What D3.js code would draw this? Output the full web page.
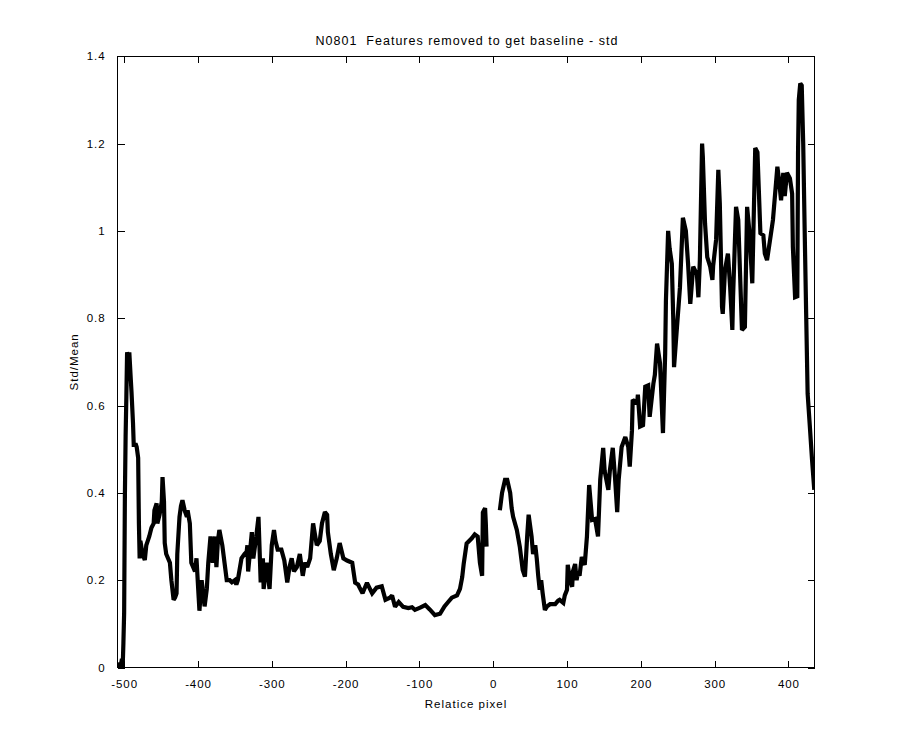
<!DOCTYPE html>
<html><head><meta charset="utf-8">
<script src="https://cdn.jsdelivr.net/npm/d3@7"></script>
<style>body{margin:0;background:#fff;} svg{display:block;} text{font-family:"Liberation Sans",Arial,sans-serif;white-space:pre;}</style>
</head><body>
<svg id="chart" width="900" height="750"></svg>
<script>
const titleText = "N0801  Features removed to get baseline - std";
const xLabel = "Relatice pixel";
const yLabel = "Std/Mean";
const xTicks = [-500,-400,-300,-200,-100,0,100,200,300,400];
const yTicks = [0,0.2,0.4,0.6,0.8,1,1.2,1.4];
// segment 1 (before the gap near 0)
const xSeg1 = [-509,-506,-505,-503,-502,-501,-500,-499,-498,-497,-496,-494,-493,-491,-490,-488,-487,-484,-483,-481,-480,-479,-478,-475,-472,-470,-468,-466,-463,-460,-459,-456,-455,-452,-449,-448,-446,-445,-443,-438,-436,-433,-431,-429,-428,-425,-423,-421,-418,-415,-414,-411,-409,-404,-402,-399,-398,-395,-391,-388,-386,-383,-380,-377,-375,-373,-371,-367,-364,-361,-357,-354,-350,-348,-346,-341,-337,-334,-333,-332,-327,-325,-321,-318,-315,-312,-311,-307,-303,-300,-297,-295,-292,-287,-283,-279,-276,-273,-270,-266,-262,-258,-255,-252,-248,-244,-241,-239,-235,-232,-228,-225,-224,-220,-216,-212,-208,-203,-198,-191,-187,-183,-181,-177,-171,-167,-164,-158,-151,-146,-140,-137,-133,-128,-122,-115,-110,-106,-99,-92,-86,-79,-72,-66,-61,-56,-49,-45,-42,-40,-36,-29,-25,-21,-18,-15,-14,-11,-10,-9];
const ySeg1 = [0,0.01,0,0.02,0,0.056,0.125,0.39,0.53,0.62,0.722,0.71,0.722,0.66,0.63,0.56,0.51,0.51,0.505,0.48,0.33,0.25,0.29,0.26,0.246,0.28,0.29,0.30,0.32,0.33,0.36,0.376,0.33,0.35,0.38,0.436,0.38,0.285,0.26,0.24,0.20,0.155,0.16,0.17,0.26,0.345,0.37,0.383,0.36,0.345,0.36,0.33,0.24,0.22,0.25,0.16,0.13,0.2,0.14,0.18,0.24,0.30,0.24,0.30,0.23,0.29,0.315,0.28,0.24,0.20,0.2,0.195,0.2,0.19,0.2,0.25,0.26,0.265,0.28,0.22,0.31,0.25,0.30,0.345,0.195,0.25,0.18,0.24,0.18,0.28,0.315,0.29,0.27,0.27,0.245,0.195,0.23,0.25,0.22,0.23,0.26,0.21,0.24,0.23,0.25,0.33,0.30,0.28,0.29,0.33,0.356,0.35,0.31,0.26,0.223,0.25,0.285,0.25,0.245,0.24,0.194,0.19,0.183,0.17,0.194,0.18,0.17,0.183,0.186,0.155,0.16,0.165,0.139,0.15,0.139,0.136,0.138,0.132,0.137,0.143,0.133,0.12,0.123,0.14,0.15,0.16,0.165,0.18,0.207,0.237,0.284,0.296,0.305,0.3,0.24,0.21,0.355,0.365,0.33,0.277];
// segment 2 (after the gap)
const xSeg2 = [9,12,16,19,23,25,27,32,36,40,43,46,48,52,54,57,59,61,63,65,67,70,73,77,84,88,90,95,97,100,101,104,107,108,111,113,115,117,120,124,127,130,134,138,142,145,149,151,156,158,162,165,168,170,174,179,183,185,188,189,195,196,199,203,206,210,212,217,219,222,226,230,233,234,237,239,242,244,245,249,253,257,261,264,267,271,276,278,280,283,284,287,290,294,297,298,302,305,307,310,311,314,318,321,324,325,329,332,337,341,344,347,351,355,358,362,366,368,371,376,379,385,387,390,393,395,398,402,405,406,409,412,413,414,416,418,420,422,424,426,429,432,433,435];
const ySeg2 = [0.36,0.40,0.43,0.43,0.40,0.365,0.345,0.315,0.277,0.223,0.208,0.3,0.35,0.30,0.26,0.28,0.25,0.21,0.178,0.2,0.17,0.132,0.14,0.145,0.145,0.153,0.155,0.148,0.165,0.178,0.235,0.2,0.185,0.22,0.237,0.2,0.22,0.21,0.253,0.235,0.3,0.418,0.338,0.34,0.30,0.43,0.503,0.45,0.407,0.45,0.503,0.436,0.356,0.43,0.505,0.528,0.505,0.46,0.543,0.613,0.605,0.625,0.552,0.555,0.643,0.646,0.574,0.65,0.67,0.742,0.697,0.537,0.72,0.84,1.0,0.96,0.925,0.796,0.688,0.78,0.87,1.03,1.0,0.925,0.833,0.918,0.90,0.848,0.933,1.2,1.17,1.017,0.94,0.918,0.888,0.92,0.98,1.14,1.063,0.826,0.81,0.91,0.948,0.872,0.773,0.85,1.055,1.025,0.773,0.78,1.055,1.0,0.88,1.19,1.18,0.995,0.99,0.948,0.933,0.99,1.025,1.147,1.12,1.07,1.133,1.08,1.133,1.12,1.085,0.963,0.848,0.85,1.177,1.3,1.338,1.333,1.2,1.0,0.81,0.627,0.552,0.475,0.452,0.407];

const L = 117.5, R = 814.5, T = 56.25, B = 667.5;
const svg = d3.select("#chart");
const x = d3.scaleLinear().domain([-509, 435.3]).range([L, R]);
const y = d3.scaleLinear().domain([0, 1.4]).range([B, T]);

const seg1 = xSeg1.map((v,i)=>[v, ySeg1[i]]);
const seg2 = xSeg2.map((v,i)=>[v, ySeg2[i]]);
const line = d3.line().x(d=>x(d[0])).y(d=>y(d[1]));

svg.append("rect").attr("x",L).attr("y",T).attr("width",R-L).attr("height",B-T).attr("fill","#fff");

svg.append("clipPath").attr("id","c").append("rect").attr("x",L).attr("y",T-4).attr("width",R-L).attr("height",B-T+8);
const g = svg.append("g").attr("clip-path","url(#c)");
[seg1, seg2].forEach(s => g.append("path").datum(s).attr("d", line)
  .attr("fill","none").attr("stroke","#000").attr("stroke-width",4.2).attr("stroke-linejoin","miter").attr("stroke-miterlimit",2));

// axes (MATLAB-like boxed with inward ticks)
const tl = 7;
const fmt = d => d3.format("~g")(d).replace("\u2212","-");
svg.append("g").attr("transform",`translate(0,${B})`)
  .call(d3.axisBottom(x).tickValues(xTicks).tickSizeInner(-tl).tickSizeOuter(0).tickPadding(12).tickFormat(fmt))
  .call(a=>a.select(".domain").remove());
svg.append("g").attr("transform",`translate(0,${T})`)
  .call(d3.axisTop(x).tickValues(xTicks).tickSizeInner(-tl).tickSizeOuter(0).tickFormat(""))
  .call(a=>a.select(".domain").remove());
svg.append("g").attr("transform",`translate(${L},0)`)
  .call(d3.axisLeft(y).tickValues(yTicks).tickSizeInner(-tl).tickSizeOuter(0).tickPadding(12).tickFormat(fmt))
  .call(a=>a.select(".domain").remove());
svg.append("g").attr("transform",`translate(${R},0)`)
  .call(d3.axisRight(y).tickValues(yTicks).tickSizeInner(-tl).tickSizeOuter(0).tickFormat(""))
  .call(a=>a.select(".domain").remove());
svg.selectAll(".tick line").attr("stroke","#000").attr("shape-rendering","crispEdges");
svg.selectAll(".tick text").attr("font-size",11.5).attr("fill","#000").attr("letter-spacing",0.9)
  .attr("font-family","Liberation Sans, Arial, sans-serif");
svg.append("rect").attr("x",L).attr("y",T).attr("width",R-L).attr("height",B-T)
  .attr("fill","none").attr("stroke","#000").attr("stroke-width",1).attr("shape-rendering","crispEdges");

svg.append("text").attr("x",(L+R)/2+1).attr("y",45).attr("text-anchor","middle").attr("font-size",12.5)
  .attr("letter-spacing",1).attr("xml:space","preserve").text(titleText);
svg.append("text").attr("x",(L+R)/2).attr("y",708).attr("text-anchor","middle").attr("font-size",11.5)
  .attr("letter-spacing",1).text(xLabel);
svg.append("text").attr("transform",`translate(78,${(T+B)/2}) rotate(-90)`).attr("text-anchor","middle")
  .attr("font-size",11.5).attr("letter-spacing",1).text(yLabel);
</script>
</body></html>
